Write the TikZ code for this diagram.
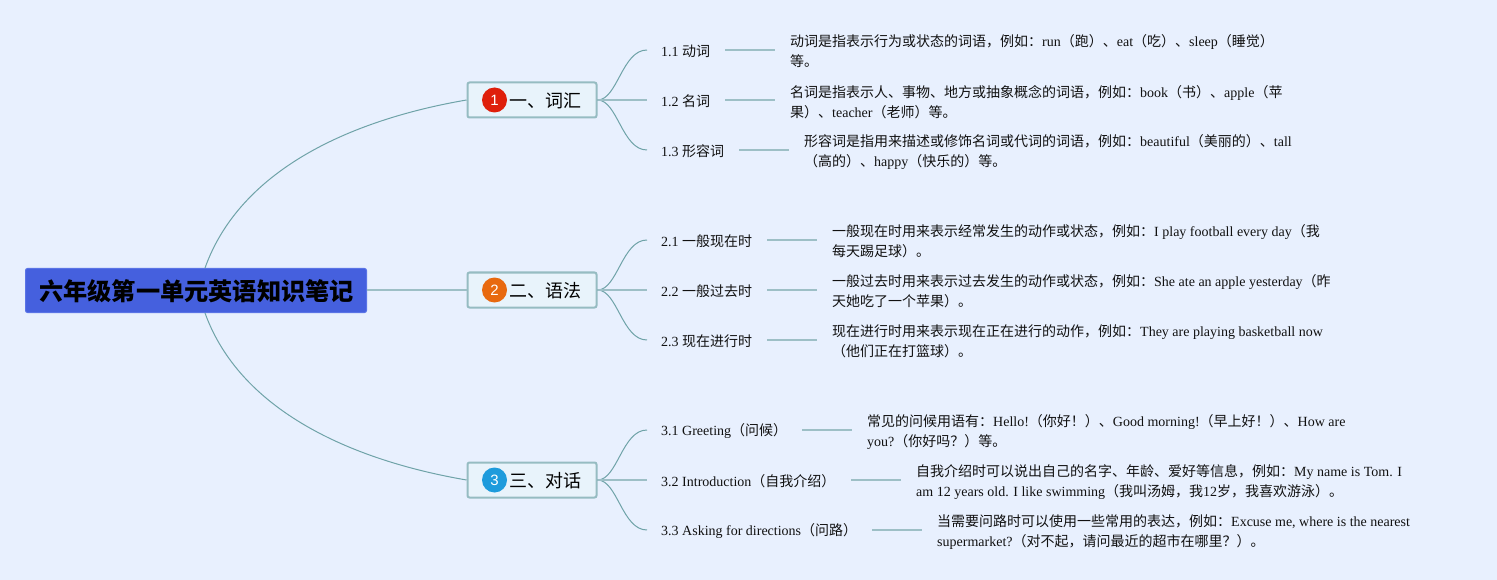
\documentclass[tikz,border=0pt]{standalone}
\usepackage{fontspec}
\setmainfont{Liberation Serif}
\newfontfamily\cjk{Noto Sans CJK SC}
\newfontfamily\numfont{Liberation Sans}
\newcommand{\zh}[1]{{\cjk #1}}
\newcommand{\sublab}[2]{\makebox[#1][l]{#2}}
\usetikzlibrary{calc}
\definecolor{bgc}{HTML}{E8F0FE}
\definecolor{rootc}{HTML}{4560DE}
\definecolor{rootb}{HTML}{5A74E6}
\definecolor{boxb}{HTML}{96BCC2}
\definecolor{boxf}{HTML}{E8F3FB}
\definecolor{curvec}{HTML}{6FA3A8}
\definecolor{barc}{HTML}{9DBFC6}
\definecolor{redc}{HTML}{DF1F0B}
\definecolor{orgc}{HTML}{E8690F}
\definecolor{bluc}{HTML}{1E9BDC}
\definecolor{txtc}{HTML}{111111}
\tikzset{
  rootbox/.style={fill=rootc,draw=rootb,line width=1pt,rounded corners=2pt,minimum width=341pt,minimum height=44pt,inner sep=0pt,font=\fontsize{24.2}{28}\selectfont\cjk\bfseries,text=black},
  branchbox/.style={fill=boxf,draw=boxb,line width=2pt,rounded corners=2pt,minimum width=129pt,minimum height=35pt,inner sep=0pt,font=\fontsize{18}{22}\selectfont,text=black},
  badge/.style={circle,minimum size=25pt,inner sep=0pt,text=white,font=\fontsize{15}{15}\selectfont\numfont},
  sublabel/.style={anchor=west,inner xsep=14pt,inner ysep=2pt,font=\fontsize{14}{20}\selectfont,text=txtc},
  notetext/.style={anchor=west,inner xsep=15pt,inner ysep=0pt,align=left,font=\fontsize{14}{20}\selectfont,text=txtc},
  main curve/.style={draw=curvec,line width=1pt},
  thin curve/.style={draw=curvec,line width=1pt},
  straight bar/.style={draw=barc,line width=1.8pt},
}
\begin{document}
\begin{tikzpicture}[x=1pt,y=-1pt]
\useasboundingbox (0,0) rectangle (1497,580);
\fill[bgc] (0,0) rectangle (1497,580);

\node[rootbox] (root) at (196,290.5) {\raisebox{-9.7pt}[0pt][0pt]{\hskip1pt 六年级第一单元英语知识笔记}};

\node[branchbox] (b1) at (532,100) {\raisebox{-7.8pt}[0pt][0pt]{\hskip26pt\zh{一、词汇}}};
\node[branchbox] (b2) at (532,290) {\raisebox{-7.8pt}[0pt][0pt]{\hskip26pt\zh{二、语法}}};
\node[branchbox] (b3) at (532,480) {\raisebox{-7.8pt}[0pt][0pt]{\hskip26pt\zh{三、对话}}};
\node[badge,fill=redc] (i1) at (494.5,100) {1};
\node[badge,fill=orgc] (i2) at (494.5,290) {2};
\node[badge,fill=bluc] (i3) at (494.5,480) {3};

\node[sublabel] (s11) at (647,51) {\sublab{50pt}{1.1 \zh{动词}}};
\node[sublabel] (s12) at (647,101) {\sublab{50pt}{1.2 \zh{名词}}};
\node[sublabel] (s13) at (647,151) {\sublab{64pt}{1.3 \zh{形容词}}};
\node[sublabel] (s21) at (647,241) {\sublab{92pt}{2.1 \zh{一般现在时}}};
\node[sublabel] (s22) at (647,291) {\sublab{92pt}{2.2 \zh{一般过去时}}};
\node[sublabel] (s23) at (647,341) {\sublab{92pt}{2.3 \zh{现在进行时}}};
\node[sublabel] (s31) at (647,431) {\sublab{127pt}{3.1 Greeting\zh{（问候）}}};
\node[sublabel] (s32) at (647,481) {\sublab{176pt}{3.2 Introduction\zh{（自我介绍）}}};
\node[sublabel] (s33) at (647,531) {\sublab{197pt}{3.3 Asking for directions\zh{（问路）}}};

\node[notetext] (t11) at (775,51) {\zh{动词是指表示行为或状态的词语，例如：}run\zh{（跑）、}eat\zh{（吃）、}sleep\zh{（睡觉）}\\\zh{等。}};
\node[notetext] (t12) at (775,102) {\zh{名词是指表示人、事物、地方或抽象概念的词语，例如：}book\zh{（书）、}apple\zh{（苹}\\\zh{果）、}teacher\zh{（老师）等。}};
\node[notetext] (t13) at (789,152) {\zh{形容词是指用来描述或修饰名词或代词的词语，例如：}beautiful\zh{（美丽的）、}tall\\\zh{（高的）、}happy\zh{（快乐的）等。}};
\node[notetext] (t21) at (817,241) {\zh{一般现在时用来表示经常发生的动作或状态，例如：}I play football every day\zh{（我}\\\zh{每天踢足球）。}};
\node[notetext] (t22) at (817,291) {\zh{一般过去时用来表示过去发生的动作或状态，例如：}She ate an apple yesterday\zh{（昨}\\\zh{天她吃了一个苹果）。}};
\node[notetext] (t23) at (817,341) {\zh{现在进行时用来表示现在正在进行的动作，例如：}They are playing basketball now\\\zh{（他们正在打篮球）。}};
\node[notetext] (t31) at (852,432) {\zh{常见的问候用语有：}Hello!\zh{（你好！）、}Good morning!\zh{（早上好！）、}How are\\you?\zh{（你好吗？）等。}};
\node[notetext] (t32) at (901,482) {\zh{自我介绍时可以说出自己的名字、年龄、爱好等信息，例如：}My name is Tom. I\\am 12 years old. I like swimming\zh{（我叫汤姆，我}12\zh{岁，我喜欢游泳）。}};
\node[notetext] (t33) at (922,532) {\zh{当需要问路时可以使用一些常用的表达，例如：}Excuse me, where is the nearest\\supermarket?\zh{（对不起，请问最近的超市在哪里？）。}};

% level one connectors
\draw[main curve] ($(root.north)+(9,0)$) .. controls (240,170) and (350,120) .. (b1.west);
\draw[straight bar] ($(root.east)+(0,-0.5)$) -- (b2.west);
\draw[main curve] ($(root.south)+(9,0)$) .. controls (240,410) and (350,460) .. (b3.west);

% level two connectors (labels sit 1px below their connector line)
\foreach \b/\s in {b1/s11,b2/s21,b3/s31,b1/s13,b2/s23,b3/s33}{
  \draw[thin curve] (\b.east) .. controls +(20,0) and +(-25,0) .. ($(\s.west)+(0,-1)$);
}
\foreach \b/\s in {b1/s12,b2/s22,b3/s32}{
  \draw[straight bar] (\b.east) -- ($(\s.west)+(0,-1)$);
}

% note connectors: level lines from the label to the note
\foreach \s/\t in {s11/t11,s12/t12,s13/t13,s21/t21,s22/t22,s23/t23,s31/t31,s32/t32,s33/t33}{
  \coordinate (from) at ($(\s.east)+(0,-1)$);
  \draw[straight bar] (from) -- (from -| \t.west);
}
\end{tikzpicture}
\end{document}
